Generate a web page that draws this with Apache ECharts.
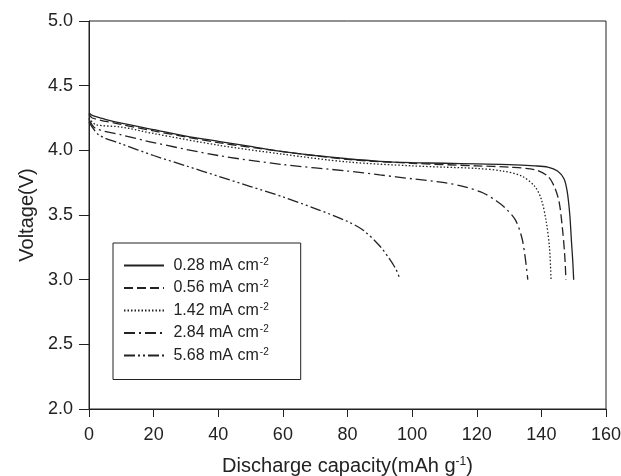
<!DOCTYPE html>
<html>
<head>
<meta charset="utf-8">
<script src="https://cdn.jsdelivr.net/npm/echarts@6/dist/echarts.min.js"></script>
<style>
  html, body { margin: 0; padding: 0; background: #fff; }
  #chart { width: 621px; height: 476px; }
</style>
</head>
<body>
<div id="chart"></div>
<script>
var seriesNames = ['0.28', '0.56', '1.42', '2.84', '5.68']

// capacity (mAh g-1) and voltage (V)
var cap028 = [0, 1, 5, 10, 20, 30, 40, 50, 60, 70, 80, 90, 100, 110, 120, 130, 138, 142, 145, 147, 148, 148.8, 149.3, 149.7, 150]
var volt028 = [4.29, 4.27, 4.24, 4.21, 4.16, 4.11, 4.07, 4.03, 3.99, 3.96, 3.935, 3.915, 3.905, 3.9, 3.895, 3.89, 3.88, 3.87, 3.84, 3.78, 3.68, 3.5, 3.3, 3.15, 3.0]

var cap056 = [0, 1, 10, 20, 40, 60, 80, 100, 120, 130, 138, 142, 144, 145.5, 146.5, 147.2, 147.6]
var volt056 = [4.28, 4.25, 4.2, 4.15, 4.06, 3.99, 3.93, 3.9, 3.88, 3.87, 3.85, 3.8, 3.72, 3.6, 3.4, 3.2, 3.0]

var cap142 = [0, 2, 10, 20, 40, 60, 80, 100, 110, 120, 128, 134, 138, 140, 141.5, 142.5, 143]
var volt142 = [4.25, 4.2, 4.18, 4.13, 4.04, 3.97, 3.91, 3.88, 3.87, 3.86, 3.84, 3.8, 3.72, 3.62, 3.45, 3.25, 3.0]

var cap284 = [0, 2, 10, 20, 40, 60, 80, 90, 100, 110, 116, 122, 126, 129, 132, 134, 135, 135.8]
var volt284 = [4.24, 4.17, 4.12, 4.06, 3.96, 3.89, 3.84, 3.81, 3.78, 3.75, 3.72, 3.67, 3.61, 3.55, 3.46, 3.32, 3.17, 3.0]

var cap568 = [0, 3, 10, 20, 30, 40, 50, 60, 70, 80, 85, 90, 93, 95, 96]
var volt568 = [4.22, 4.12, 4.05, 3.96, 3.88, 3.8, 3.72, 3.64, 3.55, 3.45, 3.38, 3.26, 3.16, 3.08, 3.02]

var xTicks = [0, 20, 40, 60, 80, 100, 120, 140, 160]
var yTicks = [2.0, 2.5, 3.0, 3.5, 4.0, 4.5, 5.0]

var capList = [cap028, cap056, cap142, cap284, cap568]
var voltList = [volt028, volt056, volt142, volt284, volt568]
var dashList = ['solid', [9, 4], [1.5, 2], [11, 4, 2, 4], [11, 3, 2, 3, 2, 3]]

function pairs(xs, ys) {
    return xs.map(function (x, i) { return [x, ys[i]] })
}

var chart = echarts.init(document.getElementById('chart'), null, { renderer: 'canvas' })

var font = 'Liberation Sans, Arial, sans-serif'
var ink = '#222'

var option = {
    animation: false,
    backgroundColor: '#fff',
    grid: {
        left: 89,
        right: 15,
        top: 21,
        bottom: 67,
        outerBoundsMode: 'none', // keep the plot box where it is
        show: true,
        borderColor: ink,
        borderWidth: 1
    },
    legend: {
        orient: 'vertical',
        left: 113,
        top: 243,
        padding: [14, 32, 16, 10],
        itemWidth: 40,
        itemHeight: 10,
        itemGap: 6,
        borderColor: ink,
        borderWidth: 1,
        itemStyle: { opacity: 0 }, // hide the dot on the legend line
        data: seriesNames,
        formatter: function (name) {
            return '{t| ' + name + ' mA cm}{s|-2}'
        },
        textStyle: {
            fontFamily: font,
            color: ink,
            rich: {
                t: { fontSize: 16, fontFamily: font, color: ink },
                s: { fontSize: 10, fontFamily: font, color: ink, verticalAlign: 'top', padding: [0, 0, 7, 1] }
            }
        }
    },
    xAxis: {
        type: 'value',
        min: 0,
        max: 160,
        interval: 20,
        name: '{t|Discharge capacity(mAh g}{s|-1}{t|)}',
        nameLocation: 'middle',
        nameGap: 47,
        nameTextStyle: {
            rich: {
                t: { fontSize: 20, fontFamily: font, color: ink },
                s: { fontSize: 12, fontFamily: font, color: ink, verticalAlign: 'top', padding: [0, 0, 8, 0] }
            }
        },
        splitLine: { show: false },
        axisLine: { lineStyle: { color: ink, width: 1 } },
        axisTick: { inside: false, length: 8, lineStyle: { color: ink } },
        axisLabel: {
            margin: 17,
            fontSize: 18,
            fontFamily: font,
            color: ink,
            formatter: function (v) { return xTicks.indexOf(v) >= 0 ? String(v) : '' }
        }
    },
    yAxis: {
        type: 'value',
        min: 2.0,
        max: 5.0,
        interval: 0.5,
        name: 'Voltage(V)',
        nameLocation: 'middle',
        nameGap: 49,
        nameTextStyle: { fontSize: 20, fontFamily: font, color: ink },
        splitLine: { show: false },
        axisLine: { show: true, lineStyle: { color: ink, width: 1 } },
        axisTick: { show: true, inside: false, length: 10, lineStyle: { color: ink } },
        axisLabel: {
            margin: 16,
            fontSize: 18,
            fontFamily: font,
            color: ink,
            formatter: function (v) { return v.toFixed(1) }
        }
    },
    series: seriesNames.map(function (name, i) {
        return {
            name: name,
            type: 'line',
            showSymbol: false,
            symbol: 'none',
            smooth: 0.3,
            lineStyle: { color: ink, width: 1.3, type: dashList[i] },
            itemStyle: { color: ink },
            data: pairs(capList[i], voltList[i])
        }
    })
}

chart.setOption(option)
</script>
</body>
</html>
